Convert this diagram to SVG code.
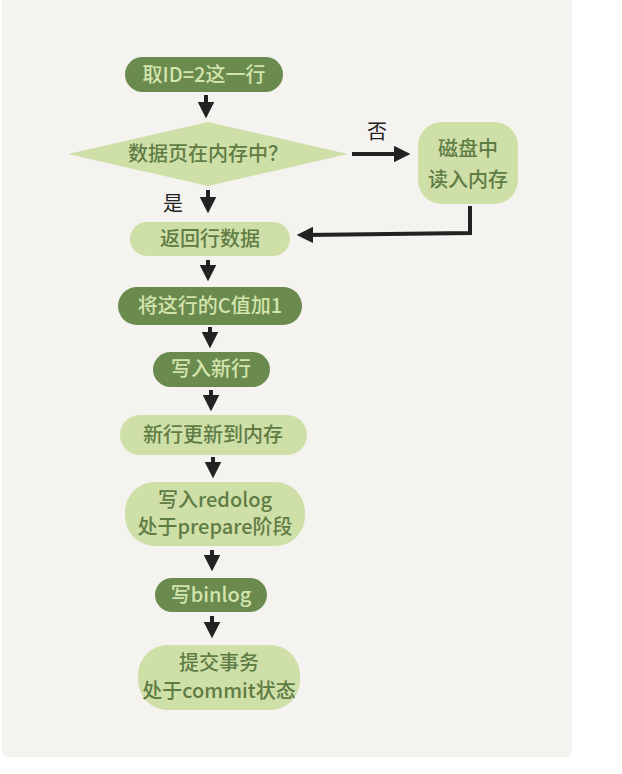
<svg xmlns="http://www.w3.org/2000/svg" width="622" height="774" viewBox="0 0 622 774">
<defs>
<marker id="ah" viewBox="0 0 10 10" refX="5" refY="5" markerWidth="4.2" markerHeight="4.2" orient="auto" markerUnits="strokeWidth">
<path d="M0,0 L10,5 L0,10 Z" fill="#222"/>
</marker>
<style>
.dark{fill:#6a8a4e}
.light{fill:#cfdfa8}
.td{font-family:"Noto Sans CJK SC","Noto Sans",sans-serif;font-size:20px;font-weight:500;fill:#d3e4ad;text-anchor:middle}
.tl{font-family:"Noto Sans CJK SC","Noto Sans",sans-serif;font-size:20px;font-weight:500;fill:#5f7c45;text-anchor:middle}
.tb{font-family:"Noto Sans CJK SC","Noto Sans",sans-serif;font-size:20px;fill:#222;text-anchor:middle}
.c{stroke:#222;stroke-width:4;fill:none;marker-end:url(#ah)}
</style>
</defs>
<rect x="2" y="-6" width="570" height="763" rx="6" fill="#f4f3ef"/>
<g id="connectors">
<line class="c" x1="206" y1="95" x2="206" y2="110"/>
<line class="c" x1="352" y1="154" x2="402" y2="154"/>
<line class="c" x1="208" y1="190" x2="208" y2="205"/>
<polyline class="c" points="470,206 470,233 305,235"/>
<line class="c" x1="208" y1="260" x2="208" y2="273"/>
<line class="c" x1="210" y1="327" x2="210" y2="340"/>
<line class="c" x1="211" y1="390" x2="211" y2="403"/>
<line class="c" x1="213" y1="457" x2="213" y2="470"/>
<line class="c" x1="212" y1="550" x2="212" y2="563"/>
<line class="c" x1="212" y1="616" x2="212" y2="630"/>
</g>
<g id="n1"><rect class="dark" x="125" y="57" width="158" height="35" rx="17.5"/><text class="td" x="204" y="82">取ID=2这一行</text></g>
<g id="n2"><polygon class="light" points="68,154 208,122 348,154 208,186"/><text class="tl" x="208" y="161">数据页在内存中？</text></g>
<g id="lbl-no"><text class="tb" x="377" y="139">否</text></g>
<g id="lbl-yes"><text class="tb" x="173" y="211">是</text></g>
<g id="n3"><rect class="light" x="418" y="122" width="100" height="82" rx="24"/><text class="tl" x="468" y="156">磁盘中</text><text class="tl" x="468" y="187">读入内存</text></g>
<g id="n4"><rect class="light" x="130" y="222" width="160" height="34" rx="17"/><text class="tl" x="210" y="246">返回行数据</text></g>
<g id="n5"><rect class="dark" x="118" y="287" width="184" height="38" rx="19"/><text class="td" x="210" y="313">将这行的C值加1</text></g>
<g id="n6"><rect class="dark" x="153" y="352" width="117" height="35" rx="17.5"/><text class="td" x="211" y="376">写入新行</text></g>
<g id="n7"><rect class="light" x="120" y="415" width="187" height="40" rx="20"/><text class="tl" x="213" y="442">新行更新到内存</text></g>
<g id="n8"><rect class="light" x="125" y="482" width="180" height="64" rx="30"/><text class="tl" x="215" y="507">写入redolog</text><text class="tl" x="215" y="534">处于prepare阶段</text></g>
<g id="n9"><rect class="dark" x="155" y="578" width="112" height="34" rx="17"/><text class="td" x="211" y="602">写binlog</text></g>
<g id="n10"><rect class="light" x="138" y="645" width="162" height="65" rx="30"/><text class="tl" x="219" y="670">提交事务</text><text class="tl" x="219" y="698">处于commit状态</text></g>
</svg>
